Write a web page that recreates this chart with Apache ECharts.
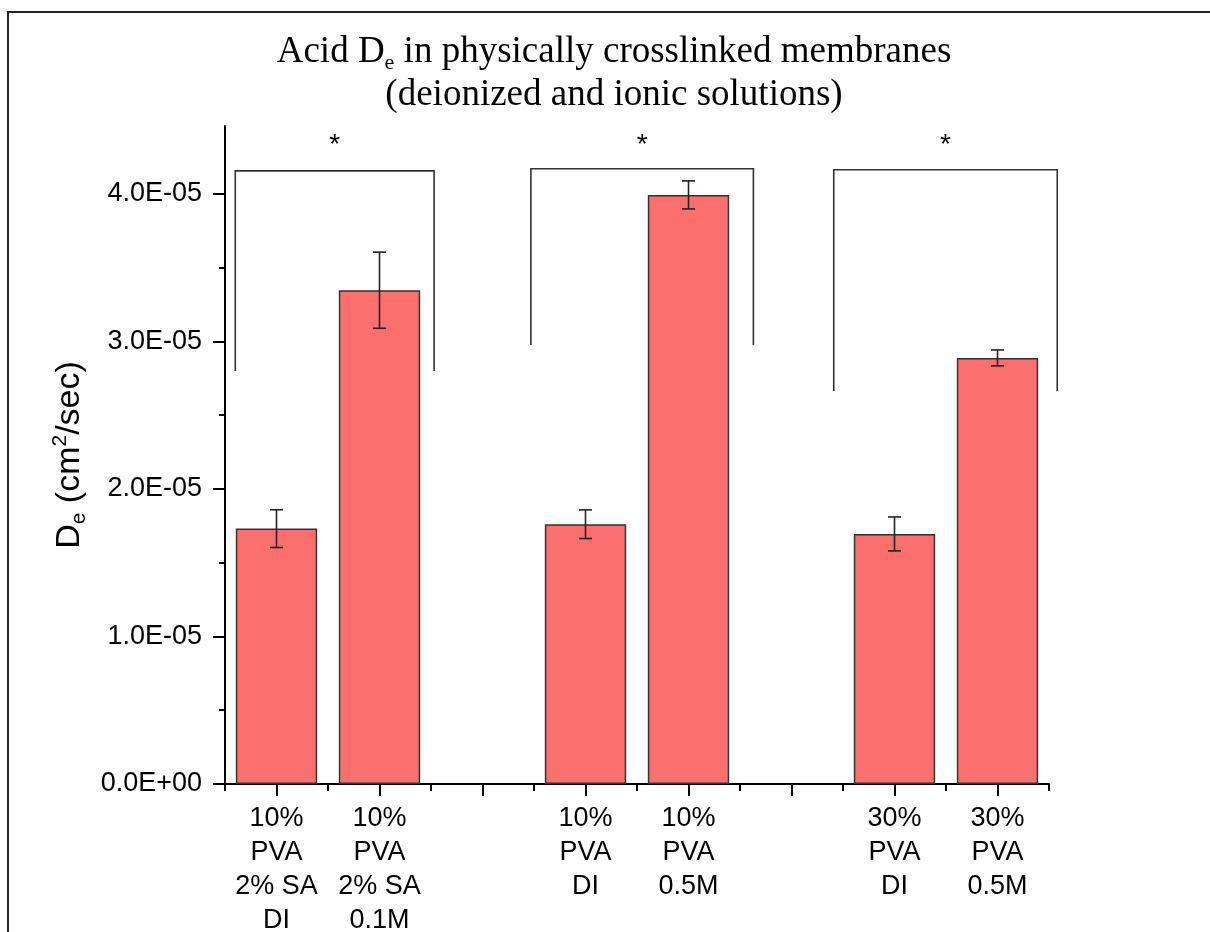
<!DOCTYPE html>
<html>
<head>
<meta charset="utf-8">
<script src="https://cdn.jsdelivr.net/npm/echarts@6/dist/echarts.min.js"></script>
<style>
html,body{margin:0;padding:0;background:#fff;}
#chart{width:1210px;height:932px;}
</style>
</head>
<body>
<div id="chart"></div>
<script>
// ---- data ----
const categories = ['10%\nPVA\n2% SA\nDI', '10%\nPVA\n2% SA\n0.1M', '', '10%\nPVA\nDI', '10%\nPVA\n0.5M', '', '30%\nPVA\nDI', '30%\nPVA\n0.5M'];
const means = [1.731e-5, 3.347e-5, null, 1.761e-5, 3.993e-5, null, 1.695e-5, 2.888e-5];
const errors = [0.128e-5, 0.258e-5, null, 0.097e-5, 0.095e-5, null, 0.115e-5, 0.054e-5];
const yTicks = [0, 1e-5, 2e-5, 3e-5, 4e-5];
const yMinorTicks = [0.5e-5, 1.5e-5, 2.5e-5, 3.5e-5];
// significance brackets (x in category units, y in data units)
const bracketFrom = [-0.40, 2.47, 5.41];
const bracketTo = [1.53, 4.63, 7.58];
const bracketTop = [4.156e-5, 4.17e-5, 4.163e-5];
const bracketLeftEnd = [2.80e-5, 2.976e-5, 2.664e-5];
const bracketRightEnd = [2.80e-5, 2.976e-5, 2.664e-5];
const bracketMarks = ['*', '*', '*'];
const markY = [4.33e-5, 4.33e-5, 4.33e-5];

function fmtSci(v) {
  if (v === 0) return '0.0E+00';
  const parts = v.toExponential(1).split('e');
  const e = parseInt(parts[1], 10);
  const ea = Math.abs(e);
  return parts[0] + 'E' + (e < 0 ? '-' : '+') + (ea < 10 ? '0' + ea : '' + ea);
}

const errData = [];
means.forEach((m, i) => { if (m != null) errData.push([i, m, errors[i]]); });
const bracketData = bracketFrom.map((f, i) => [0, bracketTop[i], f, bracketTo[i], bracketLeftEnd[i], bracketRightEnd[i], markY[i], i]);

const SANS = '"Liberation Sans", Arial, sans-serif';
const SERIF = '"Liberation Serif", "Times New Roman", serif';

const chart = echarts.init(document.getElementById('chart'), null, {renderer: 'canvas'});
chart.setOption({
  backgroundColor: '#fff',
  animation: false,
  grid: {left: 225, top: 126, width: 824, height: 658, containLabel: false, outerBoundsMode: 'none'},
  xAxis: [{
    type: 'category', data: categories, position: 'bottom',
    axisLine: {lineStyle: {color: '#000', width: 2}},
    axisTick: {show: true, alignWithLabel: true, length: 12, lineStyle: {color: '#000', width: 2}, interval: 0},
    axisLabel: {interval: 0, color: '#000', fontFamily: SANS, fontSize: 27, lineHeight: 34, margin: 18}
  }, {
    type: 'category', data: categories, position: 'bottom',
    axisLine: {show: false},
    axisTick: {show: true, alignWithLabel: false, length: 7, lineStyle: {color: '#000', width: 2}, interval: 0},
    axisLabel: {show: false}
  }],
  yAxis: [{
    type: 'value', min: 0, max: 4.46e-5, interval: 1e-5,
    splitLine: {show: false},
    axisLine: {show: true, lineStyle: {color: '#000', width: 2}},
    axisTick: {show: true, length: 12, customValues: yTicks, lineStyle: {color: '#000', width: 2}},
    axisLabel: {customValues: yTicks, formatter: fmtSci, color: '#000', fontFamily: SANS, fontSize: 27, margin: 23},
    name: '{a|D}{s|e}{a| (cm}{p|2}{a|/sec)}',
    nameLocation: 'middle', nameRotate: 90, nameGap: 135,
    nameTextStyle: {
      color: '#000', fontFamily: SANS, fontSize: 34,
      rich: {
        a: {fontFamily: SANS, fontSize: 34, color: '#000', lineHeight: 40},
        s: {fontFamily: SANS, fontSize: 21, color: '#000', lineHeight: 26, verticalAlign: 'bottom'},
        p: {fontFamily: SANS, fontSize: 21, color: '#000', lineHeight: 28, verticalAlign: 'top'}
      }
    }
  }, {
    type: 'value', min: 0, max: 4.46e-5, interval: 1e-5, position: 'left',
    splitLine: {show: false},
    axisLine: {show: false},
    axisTick: {show: true, length: 6, customValues: yMinorTicks, lineStyle: {color: '#000', width: 2}},
    axisLabel: {show: false}
  }],
  graphic: [{
    type: 'polyline',
    shape: {points: [[8, 932], [8, 12], [1210, 12]]},
    style: {stroke: '#222', lineWidth: 2, fill: null},
    silent: true
  }, {
    type: 'text', x: 614, y: 74,
    style: {
      text: '{a|Acid D}{s|e}{a| in physically crosslinked membranes}\n{a|(deionized and ionic solutions)}',
      align: 'center', verticalAlign: 'middle',
      rich: {
        a: {fontFamily: SERIF, fontSize: 37, lineHeight: 43, fill: '#000'},
        s: {fontFamily: SERIF, fontSize: 22, lineHeight: 30, fill: '#000', verticalAlign: 'bottom'}
      },
      fill: '#000'
    }
  }],
  series: [{
    type: 'bar', xAxisIndex: 0, yAxisIndex: 0,
    data: means, barWidth: '79%',
    itemStyle: {color: '#FB6F6F', borderColor: '#333', borderWidth: 1.5}
  }, {
    type: 'custom', xAxisIndex: 0, yAxisIndex: 0,
    data: errData, z: 5,
    renderItem: function (params, api) {
      const x = api.value(0), m = api.value(1), e = api.value(2);
      const hi = api.coord([x, m + e]);
      const lo = api.coord([x, m - e]);
      const hw = 6.5;
      const st = {stroke: '#222', lineWidth: 1.6};
      return {type: 'group', children: [
        {type: 'line', shape: {x1: hi[0], y1: hi[1], x2: lo[0], y2: lo[1]}, style: st},
        {type: 'line', shape: {x1: hi[0] - hw, y1: hi[1], x2: hi[0] + hw, y2: hi[1]}, style: st},
        {type: 'line', shape: {x1: lo[0] - hw, y1: lo[1], x2: lo[0] + hw, y2: lo[1]}, style: st}
      ]};
    }
  }, {
    type: 'custom', xAxisIndex: 0, yAxisIndex: 0,
    data: bracketData, z: 5, clip: false,
    renderItem: function (params, api) {
      const base = api.coord([0, 0]);
      const bw = api.size([1, 0])[0];
      const px = v => base[0] + v * bw;
      const py = v => api.coord([0, v])[1];
      const top = py(api.value(1));
      const x1 = px(api.value(2)), x2 = px(api.value(3));
      const yl = py(api.value(4)), yr = py(api.value(5));
      const ym = py(api.value(6));
      const idx = api.value(7);
      return {type: 'group', children: [
        {type: 'polyline', shape: {points: [[x1, yl], [x1, top], [x2, top], [x2, yr]]},
          style: {stroke: '#333', lineWidth: 1.6, fill: null}},
        {type: 'text', x: (x1 + x2) / 2, y: ym,
          style: {text: bracketMarks[idx], fontFamily: SANS, fontSize: 28, fill: '#000', align: 'center', verticalAlign: 'middle'}}
      ]};
    }
  }]
});
</script>
</body>
</html>
